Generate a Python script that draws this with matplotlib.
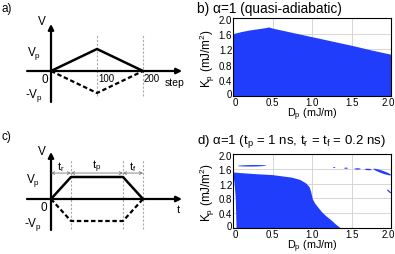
import numpy as np
import matplotlib
matplotlib.use("Agg")
import matplotlib.pyplot as plt
import matplotlib.transforms as mtrans

plt.rcParams['font.family'] = ['Liberation Sans', 'DejaVu Sans']
plt.rcParams['mathtext.fontset'] = 'custom'
plt.rcParams['mathtext.rm'] = 'Liberation Sans'
plt.rcParams['mathtext.it'] = 'Liberation Sans'

BLUE = '#1f3dfa'

# --- schematic a): triangular pulse (step, V/Vp)
tri_step = [0, 100, 200]
tri_v = [0, 1, 0]

# --- schematic c): trapezoid pulse, widths of tr, tp, tf (schematic units)
t_r, t_p, t_f = 20, 52, 20
trap_t = [0, t_r, t_r + t_p, t_r + t_p + t_f]
trap_v = [0, 1, 1, 0]

# --- b) switching region boundary, alpha=1 quasi-adiabatic
b_D = [0.0, 0.1, 0.2, 0.3, 0.4, 0.45, 0.5, 0.75, 1.0, 1.25, 1.5, 1.75, 2.0]
b_K = [1.60, 1.65, 1.69, 1.72, 1.75, 1.77, 1.74, 1.63, 1.52, 1.41, 1.30, 1.18, 1.07]

# --- d) main switching region (top/right boundary, going clockwise)
d_top_D = [0.0, 0.25, 0.5, 0.75, 0.85, 0.93, 0.97, 0.99, 1.01, 1.04, 1.08, 1.13, 1.18, 1.25, 1.30, 1.36]
d_top_K = [1.50, 1.46, 1.43, 1.36, 1.30, 1.20, 1.10, 0.97, 0.78, 0.66, 0.55, 0.42, 0.32, 0.20, 0.10, 0.0]
# left edge of the main region (K -> D)
d_left_K = [0.0, 0.4, 0.8, 1.2, 1.4, 1.5]
d_left_D = [0.045, 0.04, 0.035, 0.02, 0.008, 0.0]
# small isolated islands: (D start, D end, K at start, K at end, thickness)
d_islands = [
    (0.05, 0.42, 1.69, 1.70, 0.04),
    (1.26, 1.29, 1.65, 1.65, 0.025),
    (1.40, 1.45, 1.63, 1.63, 0.03),
    (1.53, 1.61, 1.61, 1.61, 0.035),
    (1.66, 1.75, 1.60, 1.59, 0.04),
    (1.77, 2.00, 1.61, 1.44, 0.075),
    (1.94, 2.00, 1.05, 0.95, 0.045),
]

fig = plt.figure(figsize=(3.95, 2.55), dpi=100)
W, H = 395.0, 255.0


def px_axes(x0, y0, x1, y1):
    return fig.add_axes([x0 / W, 1 - y1 / H, (x1 - x0) / W, (y1 - y0) / H])


def arrow(ax, x0, y0, x1, y1, lw=1.6):
    ax.annotate('', xy=(x1, y1), xytext=(x0, y0),
                arrowprops=dict(arrowstyle='-|>', lw=lw, color='k',
                                mutation_scale=8, shrinkA=0, shrinkB=0))


def shift(label, dx, dy):
    # nudge a tick label by dx, dy pixels
    label.set_transform(label.get_transform() +
                        mtrans.ScaledTranslation(dx / 100, dy / 100, fig.dpi_scale_trans))


# ---------------- a) ----------------
ax = px_axes(20, 18, 190, 110)
ax.set_xlim(-67.4, 302.2)
ax.set_ylim(-1.727, 2.4545)
ax.axis('off')
arrow(ax, -52, 0, 285, 0)
arrow(ax, 0, -1.41, 0, 2.14)
for xv in tri_step[1:]:
    ax.plot([xv, xv], [-1.15, 1.68], color='#aaaaaa', lw=0.8, ls=(0, (2, 1.5)))
ax.plot(tri_step, tri_v, color='k', lw=1.8)
ax.plot(tri_step, [-v for v in tri_v], color='k', lw=1.6, ls=(0, (2, 1.2)))
fs = 8.5
ax.text(-20, 2.25, 'V', fontsize=fs, ha='center', va='center')
ax.text(-37, 0.85, 'V$_\\mathrm{p}$', fontsize=fs, ha='center', va='center')
ax.text(-14, -0.38, '0', fontsize=fs, ha='center', va='center')
ax.text(-37, -1.05, '-V$_\\mathrm{p}$', fontsize=fs, ha='center', va='center')
ax.text(102, -0.08, '100', fontsize=7, ha='left', va='top')
ax.text(202, -0.08, '200', fontsize=7, ha='left', va='top')
ax.text(268, -0.5, 'step', fontsize=7.5, ha='center', va='center')
fig.text(2 / W, 1 - 9 / H, 'a)', fontsize=8.5, va='center')

# ---------------- c) ----------------
ax = px_axes(20, 148, 190, 240)
ax.set_xlim(-31, 139)
ax.set_ylim(-(240 - 200) / 22, (200 - 148) / 22)
ax.axis('off')
arrow(ax, -24, 0, 131, 0)
arrow(ax, 0, -1.41, 0, 2.14)
for xv in trap_t[1:]:
    ax.plot([xv, xv], [-1.36, 1.77], color='#aaaaaa', lw=0.8, ls=(0, (2, 1.5)))
ax.plot(trap_t, trap_v, color='k', lw=1.8)
ax.plot(trap_t, [-v for v in trap_v], color='k', lw=1.6, ls=(0, (2, 1.2)))
edges = [0] + trap_t[1:]
names = ['t$_\\mathrm{r}$', 't$_\\mathrm{p}$', 't$_\\mathrm{f}$']
for a0, a1, nm in zip(edges[:-1], edges[1:], names):
    ax.annotate('', xy=(a0, 1.18), xytext=(a1, 1.18),
                arrowprops=dict(arrowstyle='<->', lw=0.6, color='#777777',
                                mutation_scale=5, shrinkA=0, shrinkB=0))
    ax.text((a0 + a1) / 2, 1.5, nm, fontsize=8, ha='center', va='center')
ax.text(-9, 2.2, 'V', fontsize=fs, ha='center', va='center')
ax.text(-18, 0.9, 'V$_\\mathrm{p}$', fontsize=fs, ha='center', va='center')
ax.text(-7, -0.38, '0', fontsize=fs, ha='center', va='center')
ax.text(-18, -1.1, '-V$_\\mathrm{p}$', fontsize=fs, ha='center', va='center')
ax.text(127, -0.45, 't', fontsize=8, ha='center', va='center')
fig.text(2 / W, 1 - 137 / H, 'c)', fontsize=8.5, va='center')


# ---------------- b) and d) ----------------
def style_map(ax):
    ax.set_xlim(0, 2)
    ax.set_ylim(0, 2)
    ax.set_xticks([0, 0.5, 1.0, 1.5, 2.0])
    ax.set_xticklabels(['0', '0.5', '1.0', '1.5', '2.0'])
    ax.set_yticks([0, 0.4, 0.8, 1.2, 1.6, 2.0])
    ax.set_yticklabels(['0', '0.4', '0.8', '1.2', '1.6', '2.0'])
    ax.tick_params(length=0, pad=0.5, labelsize=7)
    ax.grid(True, color='#d0d0d0', lw=0.6)
    ax.set_axisbelow(True)
    for s in ax.spines.values():
        s.set_linewidth(0.8)
    ax.set_xlabel('D$_\\mathrm{p}$ (mJ/m)', fontsize=7.8, labelpad=-0.8)
    ax.set_ylabel('K$_\\mathrm{p}$ (mJ/m$^2$)', fontsize=8.5, labelpad=1)
    xl = ax.get_xticklabels()
    yl = ax.get_yticklabels()
    shift(xl[-1], -3, 0)   # keep the last x label inside the figure
    shift(xl[0], 2, 0)
    shift(yl[0], 0, 3)
    shift(yl[-1], 0, -1)


ax = px_axes(233, 19, 391, 97)
style_map(ax)
ax.fill_between(b_D, 0, b_K, color=BLUE, lw=0, zorder=2)
fig.text(197 / W, 1 - 9 / H, 'b) \u03b1=1 (quasi-adiabatic)', fontsize=9.8, va='center')

ax = px_axes(233, 155, 391, 229)
style_map(ax)
poly_D = list(d_left_D) + list(d_top_D)
poly_K = list(d_left_K) + list(d_top_K)
ax.fill(poly_D, poly_K, color=BLUE, lw=0, zorder=2)
for d0, d1, k0, k1, th in d_islands:
    xs = np.linspace(d0, d1, 20)
    kc = np.interp(xs, [d0, d1], [k0, k1])
    half = th / 2 * np.sin(np.linspace(0, np.pi, 20)) ** 0.5
    ax.fill_between(xs, kc - half, kc + half, color=BLUE, lw=0, zorder=2)
fig.text(197 / W, 1 - 142 / H,
         'd) \u03b1=1 (t$_\\mathrm{p}$ = 1 ns, t$_\\mathrm{r}$ = t$_\\mathrm{f}$ = 0.2 ns)',
         fontsize=9.5, va='center')

fig.savefig('out.png', dpi=100)
